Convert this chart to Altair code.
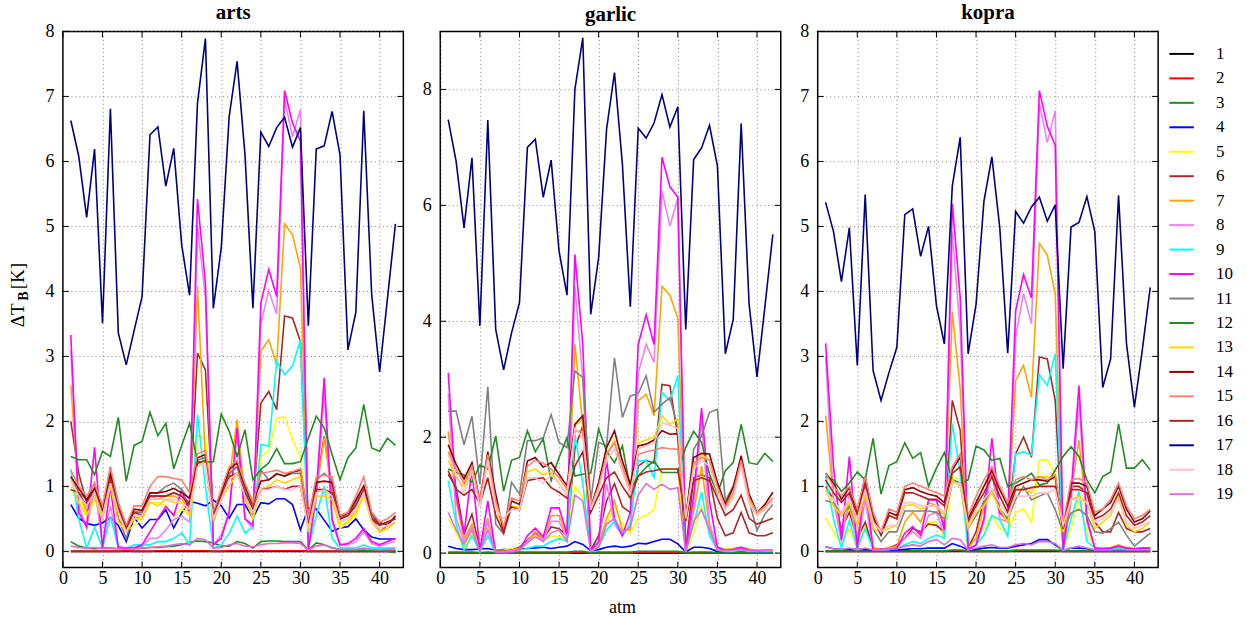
import altair as alt
import pandas as pd

SERIF = "Liberation Serif"

atm = list(range(1, 43))
series_names = [str(k) for k in range(1, 20)]
series_colors = ["#000000", "#FF0000", "#228B22", "#0000FF", "#FFFF00", "#A52A2A",
                 "#FFA500", "#EE82EE", "#00FFFF", "#FF00FF", "#808080", "#228B22",
                 "#FFD700", "#8B0000", "#FA8072", "#B22222", "#000080", "#FFC0CB",
                 "#DA70D6"]

x_ticks = [0, 5, 10, 15, 20, 25, 30, 35, 40]
arts_y_ticks = [0, 1, 2, 3, 4, 5, 6, 7, 8]
garlic_y_ticks = [0, 2, 4, 6, 8]
kopra_y_ticks = [0, 1, 2, 3, 4, 5, 6, 7, 8]

# ---------------- arts ----------------
arts_1 = [0.00, 0.00, 0.00, 0.00, 0.00, 0.00, 0.00, 0.00, 0.00, 0.00, 0.00, 0.00, 0.00, 0.00, 0.00, 0.00, 0.00, 0.00, 0.00, 0.00, 0.00,
          0.00, 0.00, 0.00, 0.00, 0.00, 0.00, 0.00, 0.00, 0.00, 0.00, 0.00, 0.00, 0.00, 0.00, 0.00, 0.00, 0.00, 0.00, 0.00, 0.00, 0.00]
arts_2 = [0.00, 0.00, 0.00, 0.00, 0.00, 0.00, 0.00, 0.01, 0.00, 0.00, 0.00, 0.01, 0.01, 0.01, 0.01, 0.01, 0.01, 0.01, 0.00, 0.00, 0.01,
          0.01, 0.01, 0.00, 0.01, 0.01, 0.01, 0.01, 0.01, 0.01, 0.00, 0.00, 0.00, 0.00, 0.00, 0.00, 0.00, 0.00, 0.00, 0.00, 0.00, 0.00]
arts_3 = [0.15, 0.08, 0.05, 0.04, 0.05, 0.05, 0.04, 0.03, 0.04, 0.05, 0.06, 0.06, 0.07, 0.08, 0.10, 0.14, 0.16, 0.15, 0.13, 0.08, 0.08,
          0.15, 0.12, 0.05, 0.15, 0.16, 0.16, 0.15, 0.15, 0.15, 0.02, 0.13, 0.10, 0.05, 0.03, 0.02, 0.02, 0.02, 0.01, 0.02, 0.00, -0.02]
arts_4 = [0.72, 0.51, 0.43, 0.40, 0.44, 0.52, 0.40, 0.15, 0.52, 0.36, 0.49, 0.49, 0.64, 0.36, 0.59, 0.77, 0.74, 0.70, 0.79, 0.70, 0.51,
          0.72, 0.72, 0.51, 0.75, 0.73, 0.81, 0.81, 0.72, 0.33, 0.67, 0.65, 0.48, 0.31, 0.36, 0.38, 0.50, 0.33, 0.22, 0.19, 0.19, 0.19]
arts_5 = [0.95, 0.80, 0.60, 0.85, 0.55, 1.00, 0.50, 0.30, 0.40, 0.50, 0.75, 0.75, 0.70, 0.55, 0.65, 0.55, 1.79, 1.72, 0.60, 0.90, 1.10,
          1.20, 0.90, 0.50, 1.45, 1.55, 2.05, 2.07, 1.72, 1.45, 0.35, 0.90, 0.95, 0.75, 0.40, 0.45, 0.55, 0.85, 0.45, 0.30, 0.40, 0.55]
arts_6 = [2.00, 1.20, 0.75, 0.95, 0.65, 1.15, 0.70, 0.35, 0.60, 0.60, 0.85, 0.85, 0.85, 0.90, 0.85, 0.75, 3.05, 2.79, 0.55, 0.85, 1.20,
          1.30, 0.95, 0.70, 2.28, 2.46, 2.18, 3.62, 3.59, 3.23, 0.45, 1.00, 1.77, 0.95, 0.50, 0.55, 0.75, 0.95, 0.55, 0.40, 0.45, 0.50]
arts_7 = [2.55, 0.90, 0.62, 0.90, 0.55, 1.10, 0.50, 0.35, 0.50, 0.55, 0.85, 0.80, 0.85, 0.85, 0.80, 0.65, 4.08, 1.40, 0.45, 0.80, 1.10,
          2.03, 0.80, 0.55, 3.08, 3.26, 2.87, 5.04, 4.87, 4.36, 0.30, 0.90, 1.75, 0.90, 0.45, 0.50, 0.60, 0.90, 0.50, 0.30, 0.35, 0.45]
arts_8 = [3.10, 0.70, 0.35, 1.00, 0.10, 0.70, 0.08, 0.05, 0.06, 0.08, 0.20, 0.20, 0.33, 0.49, 0.54, 0.45, 5.00, 3.90, 0.10, 0.25, 0.60,
          1.80, 0.50, 0.35, 3.50, 4.01, 3.65, 6.95, 6.38, 6.80, 0.02, 0.80, 2.45, 0.45, 0.10, 0.10, 0.15, 0.30, 0.12, 0.08, 0.12, 0.15]
arts_9 = [1.26, 0.50, 0.05, 0.37, 0.05, 0.54, 0.05, 0.05, 0.10, 0.10, 0.10, 0.15, 0.15, 0.20, 0.28, 0.10, 2.11, 1.00, 0.05, 0.10, 0.28,
          0.54, 0.28, 0.38, 1.64, 1.62, 2.92, 2.72, 2.85, 3.26, 0.05, 0.55, 1.00, 0.20, 0.05, 0.05, 0.05, 0.10, 0.05, 0.05, 0.05, 0.05]
arts_10 = [3.33, 0.60, 0.38, 1.60, 0.05, 1.00, 0.05, 0.05, 0.05, 0.10, 0.30, 0.50, 0.69, 0.55, 0.95, 0.60, 5.42, 4.13, 0.10, 0.20, 0.60,
           1.90, 0.50, 0.40, 3.82, 4.34, 3.92, 7.09, 6.59, 6.31, 0.02, 0.90, 2.67, 0.50, 0.10, 0.12, 0.20, 0.35, 0.15, 0.10, 0.15, 0.20]
arts_11 = [1.15, 0.90, 0.80, 1.05, 0.60, 1.30, 0.50, 0.20, 0.60, 0.60, 0.90, 0.90, 1.00, 1.05, 0.95, 0.80, 1.40, 1.45, 0.55, 0.85, 1.20,
           1.30, 0.95, 0.60, 1.25, 1.10, 1.20, 1.15, 1.20, 1.20, 0.40, 1.10, 1.20, 1.10, 0.50, 0.60, 0.75, 0.95, 0.55, 0.30, 0.40, 0.55]
arts_12 = [1.46, 1.41, 1.41, 1.18, 1.54, 1.46, 2.06, 1.08, 1.63, 1.69, 2.14, 1.78, 1.97, 1.27, 1.63, 1.97, 1.38, 1.37, 1.38, 2.11, 1.85,
           1.46, 1.87, 1.10, 1.26, 1.36, 1.58, 1.35, 1.35, 1.38, 1.74, 2.08, 1.90, 1.49, 1.10, 1.44, 1.59, 2.26, 1.59, 1.54, 1.74, 1.63]
arts_13 = [1.10, 0.75, 0.55, 0.80, 0.50, 1.00, 0.45, 0.30, 0.50, 0.50, 0.75, 0.70, 0.80, 0.75, 0.75, 0.55, 1.30, 1.40, 0.50, 0.80, 1.00,
           1.20, 0.85, 0.50, 0.95, 1.00, 1.10, 1.05, 1.10, 1.15, 0.30, 0.85, 0.85, 0.80, 0.35, 0.45, 0.60, 0.90, 0.45, 0.30, 0.35, 0.45]
arts_14 = [1.15, 0.97, 0.79, 0.97, 0.67, 1.21, 0.74, 0.38, 0.65, 0.63, 0.90, 0.90, 0.92, 0.97, 0.90, 0.82, 1.44, 1.49, 0.59, 0.90, 1.26,
           1.36, 1.00, 0.74, 1.08, 1.10, 1.19, 1.16, 1.22, 1.25, 0.50, 1.06, 1.08, 1.06, 0.54, 0.59, 0.79, 1.01, 0.59, 0.44, 0.41, 0.54]
arts_15 = [1.25, 1.00, 0.85, 1.05, 0.70, 1.30, 0.75, 0.40, 0.70, 0.70, 1.00, 1.15, 1.15, 1.12, 1.10, 0.90, 1.50, 1.55, 0.60, 0.95, 1.30,
           1.40, 1.05, 0.75, 1.20, 1.22, 1.25, 1.20, 1.23, 1.27, 0.50, 1.15, 1.17, 1.15, 0.55, 0.60, 0.85, 1.15, 0.60, 0.45, 0.50, 0.60]
arts_16 = [0.95, 0.90, 0.70, 0.90, 0.60, 1.10, 0.65, 0.35, 0.60, 0.55, 0.85, 0.85, 0.85, 0.90, 0.85, 0.70, 1.35, 1.40, 0.55, 0.85, 1.15,
           1.20, 0.90, 0.65, 0.95, 0.97, 1.00, 0.95, 1.00, 1.00, 0.40, 0.95, 0.95, 0.90, 0.50, 0.55, 0.70, 0.95, 0.50, 0.40, 0.45, 0.50]
arts_17 = [6.63, 6.08, 5.14, 6.19, 3.51, 6.81, 3.36, 2.87, 3.40, 3.92, 6.41, 6.53, 5.62, 6.20, 4.72, 3.94, 6.90, 7.89, 3.74, 4.67, 6.69,
           7.54, 6.10, 3.74, 6.45, 6.23, 6.52, 6.68, 6.22, 6.52, 3.47, 6.19, 6.24, 6.77, 6.10, 3.10, 3.68, 6.78, 3.95, 2.76, 3.90, 5.04]
arts_18 = [1.10, 0.85, 0.70, 0.90, 0.55, 1.05, 0.60, 0.30, 0.55, 0.55, 0.80, 0.80, 0.80, 0.80, 0.75, 0.65, 1.30, 1.35, 0.50, 0.80, 1.10,
           1.20, 0.85, 0.60, 0.95, 0.95, 1.00, 0.95, 0.95, 1.00, 0.35, 0.90, 0.95, 0.85, 0.45, 0.50, 0.65, 0.90, 0.45, 0.35, 0.40, 0.45]
arts_19 = [0.08, 0.06, 0.05, 0.06, 0.04, 0.05, 0.04, 0.03, 0.04, 0.05, 0.06, 0.07, 0.08, 0.10, 0.12, 0.10, 0.20, 0.18, 0.05, 0.06, 0.10,
           0.12, 0.08, 0.07, 0.10, 0.12, 0.12, 0.13, 0.13, 0.12, 0.02, 0.08, 0.10, 0.06, 0.03, 0.03, 0.03, 0.05, 0.03, 0.02, 0.03, 0.03]

# ---------------- garlic ----------------
garlic_1 = [0.00, 0.00, 0.00, 0.00, 0.00, 0.00, 0.00, 0.00, 0.00, 0.00, 0.00, 0.00, 0.00, 0.00, 0.00, 0.00, 0.00, 0.00, 0.00, 0.00, 0.00,
            0.00, 0.00, 0.00, 0.00, 0.00, 0.00, 0.00, 0.00, 0.00, 0.00, 0.00, 0.00, 0.00, 0.00, 0.00, 0.00, 0.00, 0.00, 0.00, 0.00, 0.00]
garlic_2 = [0.00, 0.00, 0.00, 0.00, 0.00, 0.00, 0.00, 0.00, 0.00, 0.00, 0.00, 0.00, 0.00, 0.00, 0.00, 0.00, 0.01, 0.01, 0.00, 0.00, 0.00,
            0.00, 0.00, 0.00, 0.01, 0.01, 0.01, 0.01, 0.01, 0.01, 0.00, 0.00, 0.00, 0.00, 0.00, 0.00, 0.00, 0.00, 0.00, 0.00, 0.00, 0.00]
garlic_3 = [0.02, 0.02, 0.02, 0.02, 0.01, 0.02, 0.01, 0.01, 0.01, 0.02, 0.02, 0.02, 0.02, 0.02, 0.02, 0.02, 0.03, 0.03, 0.01, 0.02, 0.02,
            0.02, 0.02, 0.02, 0.03, 0.03, 0.03, 0.03, 0.03, 0.03, 0.01, 0.02, 0.02, 0.02, 0.01, 0.01, 0.01, 0.01, 0.01, 0.01, 0.01, 0.01]
garlic_4 = [0.12, 0.08, 0.06, 0.06, 0.07, 0.08, 0.05, 0.06, 0.06, 0.07, 0.08, 0.09, 0.10, 0.08, 0.10, 0.12, 0.20, 0.15, 0.04, 0.06, 0.10,
            0.12, 0.10, 0.12, 0.17, 0.16, 0.20, 0.24, 0.24, 0.16, 0.02, 0.10, 0.10, 0.08, 0.03, 0.03, 0.03, 0.04, 0.03, 0.03, 0.03, 0.03]
garlic_5 = [0.60, 0.35, 0.10, 0.35, 0.05, 0.50, 0.05, 0.05, 0.08, 0.10, 0.18, 0.30, 0.22, 0.30, 0.28, 0.25, 1.15, 0.95, 0.05, 0.10, 0.50,
            0.80, 0.50, 0.35, 0.60, 0.65, 0.75, 1.45, 1.45, 1.45, 0.02, 0.35, 0.80, 0.35, 0.05, 0.05, 0.08, 0.10, 0.05, 0.05, 0.05, 0.05]
garlic_6 = [1.36, 1.13, 0.33, 0.67, 0.07, 0.56, 0.04, 0.03, 0.05, 0.10, 0.22, 0.35, 0.25, 0.45, 0.42, 0.30, 1.80, 2.20, 0.05, 0.30, 0.90,
            1.20, 0.80, 0.70, 1.50, 1.60, 1.55, 2.91, 2.89, 2.00, 0.05, 1.30, 1.35, 1.30, 0.60, 0.30, 0.35, 0.70, 0.35, 0.30, 0.30, 0.35]
garlic_7 = [2.10, 0.90, 0.25, 0.50, 0.05, 0.60, 0.02, 0.02, 0.05, 0.08, 0.20, 0.38, 0.25, 0.65, 0.65, 0.30, 3.60, 2.20, 0.05, 0.15, 0.60,
            0.90, 0.40, 0.40, 2.63, 2.74, 2.37, 4.60, 4.45, 4.05, 0.02, 0.70, 1.50, 0.45, 0.10, 0.06, 0.08, 0.10, 0.07, 0.05, 0.05, 0.05]
garlic_8 = [2.75, 0.60, 0.20, 0.45, 0.03, 0.55, 0.02, 0.02, 0.04, 0.06, 0.20, 0.33, 0.22, 0.55, 0.55, 0.25, 4.60, 3.00, 0.04, 0.15, 1.20,
            0.50, 0.30, 0.50, 3.11, 3.60, 3.29, 6.25, 5.64, 6.13, 0.02, 0.80, 2.30, 0.50, 0.08, 0.05, 0.06, 0.08, 0.05, 0.04, 0.04, 0.04]
garlic_9 = [1.25, 0.50, 0.05, 0.30, 0.02, 0.30, 0.00, 0.00, 0.02, 0.05, 0.08, 0.12, 0.12, 0.20, 0.25, 0.20, 2.05, 1.20, 0.03, 0.10, 0.40,
            0.55, 0.30, 0.50, 1.59, 1.60, 1.30, 2.77, 2.63, 3.06, 0.02, 0.50, 1.05, 0.30, 0.05, 0.03, 0.03, 0.05, 0.03, 0.03, 0.03, 0.03]
garlic_10 = [3.11, 1.00, 0.33, 1.45, 0.04, 0.90, 0.00, 0.00, 0.02, 0.05, 0.30, 0.43, 0.28, 0.78, 0.78, 0.33, 5.15, 3.60, 0.05, 0.20, 1.60,
             0.60, 0.30, 0.70, 3.60, 4.11, 3.60, 6.83, 6.32, 6.14, 0.02, 1.00, 2.50, 0.90, 0.10, 0.05, 0.06, 0.10, 0.05, 0.04, 0.05, 0.05]
garlic_11 = [2.45, 2.45, 1.87, 2.36, 1.19, 2.87, 0.50, 0.33, 1.22, 1.02, 1.94, 1.94, 1.99, 2.39, 1.91, 1.82, 3.14, 3.03, 0.90, 1.91, 1.85,
             3.37, 2.34, 2.71, 2.75, 3.06, 2.43, 2.57, 2.68, 2.17, 0.56, 1.79, 2.02, 2.43, 2.48, 0.90, 1.16, 1.59, 0.90, 0.39, 0.67, 0.84]
garlic_12 = [1.45, 1.39, 1.35, 1.22, 1.52, 1.45, 2.02, 1.07, 1.60, 1.65, 2.11, 1.75, 1.97, 1.25, 1.65, 1.99, 1.33, 1.36, 1.38, 2.14, 1.76,
             1.56, 1.85, 1.10, 1.33, 1.48, 1.59, 1.39, 1.39, 1.39, 1.82, 2.10, 1.91, 1.36, 1.03, 1.42, 1.56, 2.22, 1.56, 1.53, 1.72, 1.58]
garlic_13 = [1.60, 1.30, 1.15, 1.45, 0.80, 1.60, 0.80, 0.40, 0.80, 0.80, 1.40, 1.45, 1.35, 1.40, 1.20, 1.00, 2.20, 2.30, 0.75, 1.10, 1.70,
             1.95, 1.45, 1.10, 1.90, 1.95, 2.00, 2.37, 2.22, 2.31, 0.55, 1.50, 1.70, 1.60, 1.15, 0.80, 1.00, 1.60, 0.90, 0.65, 0.80, 0.95]
garlic_14 = [1.87, 1.53, 1.28, 1.56, 0.90, 1.75, 1.02, 0.36, 0.90, 0.84, 1.59, 1.65, 1.48, 1.56, 1.36, 1.16, 2.22, 2.37, 0.79, 1.22, 1.82,
             2.11, 1.59, 1.19, 1.85, 1.88, 1.95, 2.11, 2.05, 2.06, 0.61, 1.65, 1.72, 1.71, 1.22, 0.84, 1.13, 1.68, 1.02, 0.70, 0.84, 1.05]
garlic_15 = [1.75, 1.45, 1.20, 1.50, 0.90, 1.70, 0.90, 0.45, 0.95, 0.90, 1.50, 1.60, 1.55, 1.45, 1.30, 1.10, 2.10, 2.10, 0.80, 1.15, 1.70,
             1.90, 1.50, 1.10, 1.70, 1.75, 1.78, 1.82, 1.80, 1.79, 0.55, 1.55, 1.65, 1.60, 1.15, 0.80, 1.05, 1.60, 0.95, 0.70, 0.80, 0.95]
garlic_16 = [1.42, 1.10, 1.00, 1.10, 0.85, 1.30, 0.65, 0.35, 0.80, 0.75, 1.25, 1.28, 1.30, 1.13, 1.05, 0.95, 1.50, 1.75, 0.70, 1.00, 1.30,
             1.40, 1.15, 0.95, 1.33, 1.40, 1.42, 1.45, 1.45, 1.45, 0.55, 1.25, 1.30, 1.25, 0.95, 0.65, 0.75, 1.00, 0.60, 0.50, 0.55, 0.60]
garlic_17 = [7.48, 6.76, 5.61, 6.82, 3.92, 7.47, 3.86, 3.16, 3.80, 4.32, 7.00, 7.14, 6.14, 6.78, 5.21, 4.45, 8.00, 8.89, 4.12, 5.10, 7.31,
             8.29, 6.71, 4.25, 7.33, 7.16, 7.42, 7.91, 7.35, 7.70, 3.86, 6.79, 6.99, 7.38, 6.68, 3.44, 4.03, 7.41, 4.30, 3.04, 4.25, 5.50]
garlic_18 = [1.70, 1.35, 1.05, 1.40, 0.80, 1.60, 0.75, 0.60, 0.75, 0.75, 1.30, 1.30, 1.20, 1.35, 1.20, 1.00, 2.15, 2.00, 0.75, 1.10, 1.60,
             1.80, 1.40, 1.00, 1.80, 1.85, 1.90, 2.25, 2.20, 2.15, 0.60, 1.45, 1.60, 1.50, 1.05, 0.75, 0.95, 1.50, 0.85, 0.65, 0.75, 0.90]
garlic_19 = [0.70, 0.40, 0.15, 0.40, 0.03, 0.40, 0.02, 0.02, 0.03, 0.05, 0.18, 0.28, 0.20, 0.35, 0.40, 0.20, 1.00, 0.90, 0.03, 0.10, 0.50,
             0.60, 0.35, 0.45, 1.00, 1.20, 1.10, 1.19, 1.10, 1.13, 0.02, 0.55, 0.75, 0.40, 0.05, 0.04, 0.05, 0.06, 0.04, 0.03, 0.04, 0.04]

# ---------------- kopra ----------------
kopra_1 = [0.00, 0.00, 0.00, 0.00, 0.00, 0.00, 0.00, 0.00, 0.00, 0.00, 0.00, 0.00, 0.00, 0.00, 0.00, 0.00, 0.00, 0.00, 0.00, 0.00, 0.00,
           0.00, 0.00, 0.00, 0.00, 0.00, 0.00, 0.00, 0.00, 0.00, 0.00, 0.00, 0.00, 0.00, 0.00, 0.00, 0.00, 0.00, 0.00, 0.00, 0.00, 0.00]
kopra_2 = [0.00, 0.00, 0.00, 0.00, 0.00, 0.00, 0.00, 0.00, 0.00, 0.00, 0.00, 0.00, 0.00, 0.00, 0.00, 0.00, 0.01, 0.01, 0.00, 0.00, 0.00,
           0.00, 0.00, 0.00, 0.01, 0.01, 0.01, 0.01, 0.01, 0.01, 0.00, 0.00, 0.00, 0.00, 0.00, 0.00, 0.00, 0.00, 0.00, 0.00, 0.00, 0.00]
kopra_3 = [0.01, 0.01, 0.01, 0.01, 0.01, 0.01, 0.01, 0.01, 0.01, 0.01, 0.01, 0.01, 0.01, 0.01, 0.01, 0.01, 0.02, 0.02, 0.01, 0.01, 0.01,
           0.01, 0.01, 0.01, 0.02, 0.02, 0.02, 0.02, 0.02, 0.02, 0.01, 0.01, 0.01, 0.01, 0.01, 0.01, 0.01, 0.01, 0.01, 0.01, 0.01, 0.01]
kopra_4 = [0.07, 0.04, 0.03, 0.03, 0.03, 0.03, 0.02, 0.02, 0.02, 0.02, 0.03, 0.04, 0.04, 0.05, 0.05, 0.05, 0.12, 0.08, 0.02, 0.03, 0.05,
           0.06, 0.05, 0.05, 0.08, 0.10, 0.12, 0.18, 0.18, 0.10, 0.01, 0.05, 0.05, 0.04, 0.02, 0.02, 0.02, 0.03, 0.02, 0.02, 0.02, 0.02]
kopra_5 = [0.52, 0.30, 0.10, 0.35, 0.05, 0.40, 0.05, 0.03, 0.05, 0.10, 0.20, 0.30, 0.25, 0.45, 0.45, 0.20, 1.15, 1.10, 0.05, 0.20, 0.35,
           0.55, 0.35, 0.30, 0.60, 0.65, 0.45, 1.40, 1.41, 1.20, 0.02, 0.35, 0.80, 0.30, 0.05, 0.05, 0.06, 0.10, 0.05, 0.04, 0.05, 0.05]
kopra_6 = [1.00, 0.80, 0.35, 0.60, 0.20, 0.45, 0.05, 0.03, 0.05, 0.10, 0.20, 0.35, 0.30, 0.42, 0.40, 0.30, 2.32, 1.86, 0.05, 0.30, 0.80,
           1.20, 0.60, 0.50, 1.50, 1.76, 1.45, 2.99, 2.96, 2.32, 0.05, 1.00, 1.00, 0.90, 0.45, 0.30, 0.30, 0.60, 0.35, 0.30, 0.30, 0.35]
kopra_7 = [2.09, 0.80, 0.30, 0.70, 0.20, 0.90, 0.05, 0.03, 0.05, 0.08, 0.45, 0.60, 0.45, 0.75, 0.70, 0.40, 3.68, 2.50, 0.05, 0.20, 0.70,
           1.30, 0.60, 0.45, 2.63, 2.86, 2.37, 4.74, 4.56, 3.96, 0.03, 0.90, 1.71, 0.50, 0.05, 0.05, 0.06, 0.10, 0.05, 0.04, 0.05, 0.06]
kopra_8 = [3.00, 0.80, 0.15, 0.90, 0.04, 0.80, 0.02, 0.02, 0.03, 0.05, 0.20, 0.30, 0.20, 0.55, 0.60, 0.25, 4.90, 3.40, 0.03, 0.10, 0.45,
           1.30, 0.50, 0.45, 3.30, 3.97, 3.50, 6.90, 6.29, 6.78, 0.02, 0.75, 2.30, 0.45, 0.05, 0.04, 0.05, 0.07, 0.05, 0.04, 0.04, 0.04]
kopra_9 = [1.15, 0.50, 0.05, 0.48, 0.05, 0.35, 0.02, 0.02, 0.03, 0.05, 0.10, 0.15, 0.12, 0.20, 0.25, 0.20, 1.97, 1.20, 0.03, 0.10, 0.25,
           0.55, 0.48, 0.23, 1.50, 1.53, 1.48, 2.72, 2.55, 3.04, 0.02, 0.50, 0.92, 0.15, 0.05, 0.03, 0.03, 0.05, 0.03, 0.03, 0.03, 0.03]
kopra_10 = [3.20, 1.30, 0.18, 1.46, 0.05, 1.10, 0.02, 0.03, 0.03, 0.05, 0.28, 0.38, 0.25, 0.79, 0.79, 0.33, 5.35, 3.90, 0.03, 0.10, 0.50,
            1.74, 0.59, 0.50, 3.70, 4.26, 3.90, 7.09, 6.54, 6.25, 0.02, 0.90, 2.55, 0.50, 0.05, 0.04, 0.05, 0.08, 0.05, 0.04, 0.05, 0.05]
kopra_11 = [0.78, 0.75, 0.55, 0.70, 0.40, 0.95, 0.35, 0.15, 0.30, 0.30, 0.62, 0.62, 0.62, 0.62, 0.60, 0.50, 1.05, 1.05, 0.35, 0.55, 0.75,
            0.95, 0.65, 0.50, 0.80, 1.00, 0.79, 0.85, 0.90, 0.64, 0.30, 0.59, 0.65, 0.55, 0.30, 0.28, 0.35, 0.45, 0.25, 0.08, 0.18, 0.28]
kopra_12 = [1.15, 1.10, 0.92, 1.05, 1.22, 1.10, 1.74, 0.88, 1.32, 1.38, 1.67, 1.43, 1.52, 1.00, 1.28, 1.52, 1.10, 1.05, 1.10, 1.62, 1.56,
            1.40, 1.43, 1.00, 1.05, 1.12, 1.20, 1.02, 1.05, 1.25, 1.46, 1.61, 1.46, 1.10, 0.90, 1.15, 1.22, 1.96, 1.28, 1.28, 1.41, 1.25]
kopra_13 = [0.95, 0.70, 0.55, 0.75, 0.40, 0.90, 0.35, 0.30, 0.35, 0.40, 0.70, 0.72, 0.65, 0.70, 0.70, 0.55, 1.10, 1.00, 0.35, 0.60, 0.70,
            0.90, 0.65, 0.45, 0.95, 0.95, 0.90, 1.15, 1.15, 1.10, 0.30, 0.80, 0.85, 0.75, 0.35, 0.45, 0.55, 0.85, 0.40, 0.30, 0.35, 0.45]
kopra_14 = [1.20, 1.05, 0.80, 0.98, 0.60, 1.15, 0.55, 0.25, 0.60, 0.55, 0.95, 0.98, 0.92, 0.88, 0.85, 0.75, 1.25, 1.45, 0.50, 0.75, 1.00,
            1.25, 0.95, 0.70, 1.00, 1.05, 1.10, 1.10, 1.08, 1.15, 0.35, 1.05, 1.05, 1.00, 0.55, 0.65, 0.75, 1.00, 0.65, 0.45, 0.50, 0.62]
kopra_15 = [1.20, 1.00, 0.85, 1.00, 0.65, 1.15, 0.60, 0.30, 0.65, 0.60, 1.00, 1.05, 1.00, 0.95, 0.90, 0.85, 1.30, 1.50, 0.55, 0.85, 1.10,
            1.30, 1.00, 0.75, 1.10, 1.15, 1.10, 1.15, 1.10, 1.18, 0.40, 1.10, 1.12, 1.05, 0.60, 0.65, 0.80, 1.05, 0.70, 0.50, 0.55, 0.65]
kopra_16 = [1.10, 0.90, 0.75, 0.90, 0.55, 1.05, 0.50, 0.25, 0.55, 0.50, 0.90, 0.90, 0.85, 0.80, 0.80, 0.70, 1.20, 1.30, 0.45, 0.70, 0.90,
            1.15, 0.85, 0.60, 0.95, 0.95, 0.98, 1.00, 1.00, 1.00, 0.35, 0.95, 0.95, 0.90, 0.50, 0.55, 0.65, 0.90, 0.55, 0.40, 0.45, 0.55]
kopra_17 = [5.37, 4.92, 4.15, 4.98, 2.86, 5.49, 2.78, 2.32, 2.75, 3.14, 5.18, 5.27, 4.54, 5.00, 3.78, 3.19, 5.62, 6.37, 3.04, 3.80, 5.39,
            6.07, 4.98, 3.05, 5.23, 5.05, 5.30, 5.45, 5.08, 5.33, 2.81, 4.99, 5.06, 5.46, 4.92, 2.52, 2.96, 5.48, 3.20, 2.22, 3.10, 4.06]
kopra_18 = [0.90, 0.80, 0.60, 0.80, 0.50, 0.95, 0.45, 0.30, 0.40, 0.40, 0.75, 0.75, 0.70, 0.70, 0.70, 0.60, 1.05, 1.05, 0.40, 0.65, 0.80,
            0.95, 0.75, 0.55, 0.85, 0.85, 0.85, 0.90, 0.90, 0.95, 0.40, 0.80, 0.80, 0.75, 0.45, 0.50, 0.60, 0.80, 0.45, 0.35, 0.40, 0.45]
kopra_19 = [0.07, 0.04, 0.03, 0.05, 0.02, 0.05, 0.02, 0.02, 0.03, 0.04, 0.08, 0.10, 0.08, 0.15, 0.18, 0.10, 0.20, 0.18, 0.02, 0.05, 0.08,
            0.10, 0.06, 0.06, 0.10, 0.12, 0.10, 0.15, 0.15, 0.12, 0.01, 0.05, 0.08, 0.05, 0.02, 0.02, 0.02, 0.03, 0.02, 0.02, 0.02, 0.02]

arts_series = [arts_1, arts_2, arts_3, arts_4, arts_5, arts_6, arts_7, arts_8, arts_9, arts_10,
               arts_11, arts_12, arts_13, arts_14, arts_15, arts_16, arts_17, arts_18, arts_19]
garlic_series = [garlic_1, garlic_2, garlic_3, garlic_4, garlic_5, garlic_6, garlic_7, garlic_8, garlic_9, garlic_10,
                 garlic_11, garlic_12, garlic_13, garlic_14, garlic_15, garlic_16, garlic_17, garlic_18, garlic_19]
kopra_series = [kopra_1, kopra_2, kopra_3, kopra_4, kopra_5, kopra_6, kopra_7, kopra_8, kopra_9, kopra_10,
                kopra_11, kopra_12, kopra_13, kopra_14, kopra_15, kopra_16, kopra_17, kopra_18, kopra_19]

W, H = 341, 537
TICK = 6
NBSP = "\u00a0"


def long_table(series_lists):
    rows = []
    for name, values in zip(series_names, series_lists):
        for a, v in zip(atm, values):
            rows.append({"atm": a, "series": name, "dTB": v})
    return pd.DataFrame(rows)


def panel(title, series_lists, y_max, y_ticks, title_offset, y_title=False, x_title=None):
    xs = alt.Scale(domain=[0, 43], nice=False, zero=False)
    ys = alt.Scale(domain=[-0.25, y_max], nice=False, zero=False)

    x_kw = dict(values=x_ticks, grid=True, ticks=False, tickSize=0, domain=False,
                labelPadding=2, labelFlush=False, title=None)
    y_kw = dict(values=y_ticks, grid=True, ticks=False, tickSize=0, domain=False,
                labelPadding=9, labelFlush=False, title=None)
    if x_title:
        x_kw.update(title=x_title, titleX=182, titlePadding=11)
    if y_title:
        # Delta T ... [K]; the bold subscript B is set into the gap
        y_kw.update(title="\u0394T" + NBSP * 3 + "[K]", titleAngle=270, titleX=-45, titleY=263.5,
                    titleAlign="center", titleBaseline="middle", titleFontSize=19)
    x_axis = alt.Axis(**x_kw)
    y_axis = alt.Axis(**y_kw)

    lines = alt.Chart(long_table(series_lists)).mark_line(strokeWidth=1.6, clip=True).encode(
        x=alt.X("atm:Q", scale=xs, axis=x_axis),
        y=alt.Y("dTB:Q", scale=ys, axis=y_axis),
        color=alt.Color("series:N", sort=series_names,
                        scale=alt.Scale(domain=series_names, range=series_colors),
                        legend=alt.Legend(title=None, symbolType="stroke", symbolSize=600,
                                          symbolStrokeWidth=2, labelFont=SERIF,
                                          labelFontSize=17, labelOffset=21,
                                          rowPadding=2.5, offset=-1, padding=9)),
    )

    # inward tick marks on all four sides of the frame
    xt = pd.DataFrame({"t": x_ticks})
    yt = pd.DataFrame({"t": y_ticks})
    rule = dict(color="black", strokeWidth=1)
    ticks_bottom = alt.Chart(xt).mark_rule(**rule).encode(
        x=alt.X("t:Q", scale=xs, axis=x_axis), y=alt.value(H), y2=alt.value(H - TICK))
    ticks_top = alt.Chart(xt).mark_rule(**rule).encode(
        x=alt.X("t:Q", scale=xs, axis=x_axis), y=alt.value(0), y2=alt.value(TICK))
    ticks_left = alt.Chart(yt).mark_rule(**rule).encode(
        y=alt.Y("t:Q", scale=ys, axis=y_axis), x=alt.value(0), x2=alt.value(TICK))
    ticks_right = alt.Chart(yt).mark_rule(**rule).encode(
        y=alt.Y("t:Q", scale=ys, axis=y_axis), x=alt.value(W - TICK), x2=alt.value(W))

    layers = [lines, ticks_bottom, ticks_top, ticks_left, ticks_right]

    if y_title:
        one = pd.DataFrame({"k": [0]})
        layers.append(
            alt.Chart(one).mark_text(text="B", angle=270, align="center", baseline="middle",
                                     font=SERIF, fontSize=14, fontWeight="bold",
                                     color="black").encode(
                x=alt.value(-39), y=alt.value(265))
        )

    return alt.layer(*layers).properties(
        width=W, height=H,
        title=alt.TitleParams(title, font=SERIF, fontSize=21, fontWeight="bold",
                              color="black", offset=title_offset),
    )


chart = alt.hconcat(
    panel("arts", arts_series, 8, arts_y_ticks, -1, y_title=True),
    panel("garlic", garlic_series, 9, garlic_y_ticks, 6, x_title="atm"),
    panel("kopra", kopra_series, 8, kopra_y_ticks, -1),
    spacing=16,
).properties(
    padding={"left": 8, "top": 1, "right": 5, "bottom": 5},
    background="white",
).configure_view(
    stroke="black", strokeWidth=1.5,
).configure_axis(
    labelFont=SERIF, labelFontSize=18, labelColor="black",
    titleFont=SERIF, titleFontSize=18, titleFontWeight="normal", titleColor="black",
    gridColor="#666666", gridDash=[1, 3], gridWidth=0.8, gridOpacity=1,
)

chart.save("out.html", embed_options={"renderer": "svg", "actions": False})
